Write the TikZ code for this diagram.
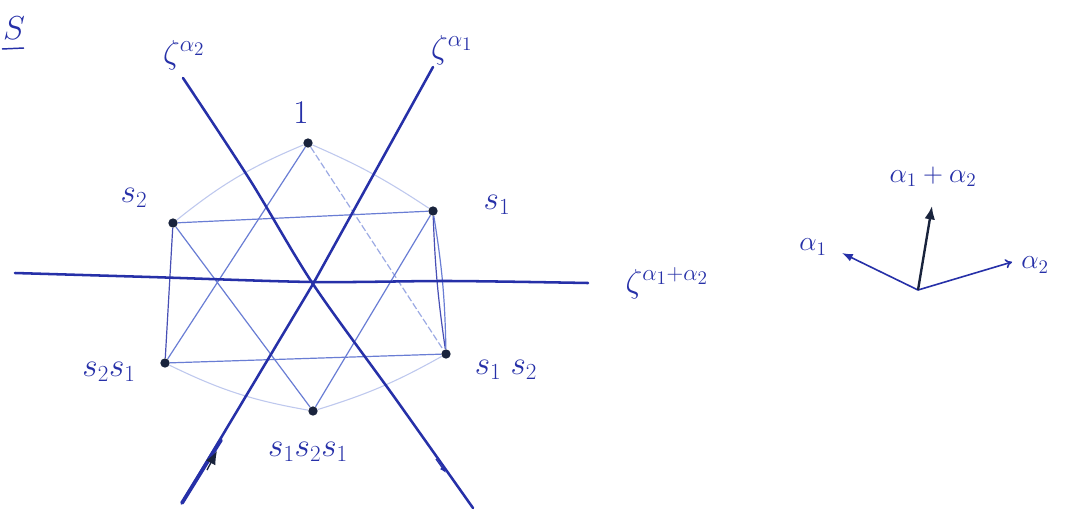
\documentclass[tikz,border=0pt]{standalone}
\usetikzlibrary{arrows.meta,decorations.markings}
\definecolor{ink}{RGB}{38,48,168}
\definecolor{inklight}{RGB}{105,125,212}
\definecolor{inkfaint}{RGB}{190,200,238}
\definecolor{dotc}{RGB}{25,35,60}
\tikzset{
  axisline/.style={draw=ink, line width=1.9pt, line cap=round},
  triedge/.style={draw=inklight, line width=0.9pt},
  hexedge/.style={draw=inkfaint, line width=0.8pt},
  sideedge/.style={draw=ink!85, line width=0.9pt},
  vdot/.style={circle, fill=dotc, inner sep=0pt, minimum size=7pt},
  lbl/.style={text=ink, font=\fontsize{23}{27}\selectfont, inner sep=0pt},
  vlbl/.style={text=ink, font=\fontsize{21}{25}\selectfont, inner sep=0pt},
  zlbl/.style={text=ink, font=\fontsize{27}{31}\selectfont, inner sep=0pt},
  vec/.style={draw=ink, line width=1.2pt}
}
\begin{document}
\begin{tikzpicture}[x=0.75pt,y=-0.75pt]
\useasboundingbox (0,0) rectangle (1081,529);
\fill[white] (0,0) rectangle (1081,529);

% title
\node[lbl, font=\fontsize{24}{28}\selectfont] (title) at (14,28) {$S$};
\draw[ink, line width=1.1pt] (2,49) -- (24,48);

% vertices
\node[vdot] (e) at (308,143) {};
\node[vdot] (s1) at (433,211) {};
\node[vdot] (s12) at (446,354) {};
\node[vdot] (s121) at (313,411) {};
\node[vdot] (s21) at (165,363) {};
\node[vdot] (s2) at (173,223) {};

% hexagon edges
\draw[hexedge] (e) to[bend right=8] (s2);
\draw[hexedge] (e) to[bend left=5] (s1);
\draw[hexedge] (s12) to[bend left=6] (s121);
\draw[hexedge] (s21) to[bend right=8] (s121);
\draw[sideedge] (s2) -- (s21);
\draw[sideedge] (s1) to[bend right=3] (s12);
\draw[sideedge, draw=inklight] (s1) to[bend left=4] (s12);

% triangles
\draw[triedge] (e) -- (s21);
\draw[triedge, draw=inkfaint!60!inklight, dashed, dash pattern=on 5pt off 2pt] (e) -- (s12);
\draw[triedge] (s21) -- (s12);
\draw[triedge] (s2) -- (s1);
\draw[triedge] (s2) -- (s121);
\draw[triedge] (s1) -- (s121);

% reflecting lines
\draw[axisline] plot[smooth] coordinates {(183,78) (250,180) (313,284) (395,398) (473,508)};
\draw[axisline] (433,67) -- (313,284) -- (182,503);
\draw[axisline, line width=2.8pt] (221,440) -- (182,503);
\draw[dotc, line width=1pt, -{Latex[length=10pt,width=8pt]}] (207,470) -- (217,451);
\draw[ink, line width=1pt, -{Latex[length=5pt,width=4pt]}] (436,459) -- (446,473);
\draw[axisline] plot[smooth] coordinates {(15,273) (150,277) (313,282) (450,281) (588,283)};

% vertex labels
\node[lbl] (le) at (301,113) {$1$};
\node[lbl] (ls1) at (497,205) {$s_1$};
\node[lbl] (ls12) at (506,370) {$s_1\;s_2$};
\node[lbl] (ls121) at (308,452) {$s_1s_2s_1$};
\node[lbl] (ls21) at (109,372) {$s_2s_1$};
\node[lbl] (ls2) at (134,198) {$s_2$};

% line labels
\node[zlbl] (za2) at (184,55) {$\zeta^{\alpha_2}$};
\node[zlbl] (za1) at (452,50) {$\zeta^{\alpha_1}$};
\node[zlbl] (za12) at (667,283) {$\zeta^{\alpha_1+\alpha_2}$};

% root vectors
\coordinate (O) at (918,290);
\coordinate (ta1) at (842,253);
\coordinate (ta2) at (1012,262);
\coordinate (ta12) at (932,206);
\draw[vec, -{Latex[length=8pt,width=6pt]}] (O) -- (ta1);
\draw[vec, -{To[length=5pt,width=7pt]}] (O) -- (ta2);
\draw[vec, draw=dotc, line width=1.8pt, -{Latex[length=10pt,width=8pt]}] (O) -- (ta12);
\node[vlbl] (la1) at (813,247) {$\alpha_1$};
\node[vlbl] (la2) at (1035,265) {$\alpha_2$};
\node[vlbl] (la12) at (933,177) {$\alpha_1+\alpha_2$};
\end{tikzpicture}
\end{document}
